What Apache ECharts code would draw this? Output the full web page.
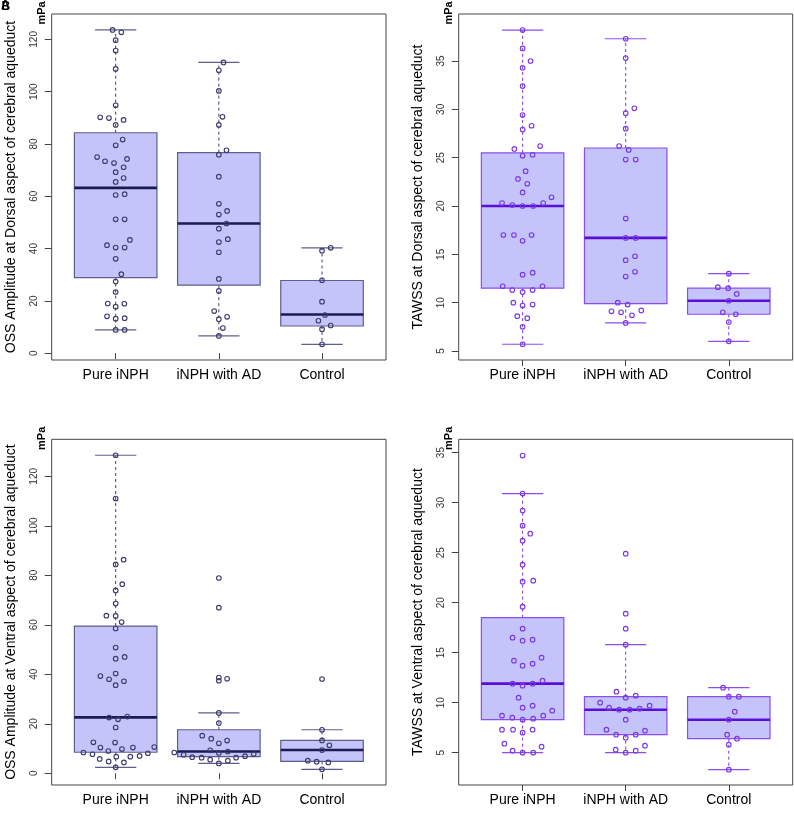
<!DOCTYPE html>
<html><head><meta charset="utf-8">
<script src="https://cdn.jsdelivr.net/npm/echarts@6/dist/echarts.min.js"></script>
<style>html,body{margin:0;padding:0;background:#fff}#c{width:794px;height:813px}</style>
</head><body><div id="c"></div>
<script>
// ---------- data ----------
const categories = ['Pure iNPH', 'iNPH with AD', 'Control'];
const yTicksOSS = [0, 20, 40, 60, 80, 100, 120];
const yTicksTAWSS = [5, 10, 15, 20, 25, 30, 35];
const axisTitles = [
  'OSS Amplitude at Dorsal aspect of cerebral aqueduct',
  'TAWSS at Dorsal aspect of cerebral aqueduct',
  'OSS Amplitude at Ventral aspect of cerebral aqueduct',
  'TAWSS at Ventral aspect of cerebral aqueduct'
];
const unitLabel = 'mPa';

// box stats: [lower whisker, Q1, median, Q3, upper whisker]
const boxA = [[8.9, 28.9, 63.2, 84.3, 123.6], [6.6, 26.0, 49.6, 76.7, 111.2], [3.4, 10.4, 14.8, 27.8, 40.3]];
const boxB = [[5.7, 11.5, 20.0, 25.5, 38.2], [7.9, 9.9, 16.7, 26.0, 37.3], [6.0, 8.8, 10.2, 11.5, 13.0]];
const boxC = [[2.4, 8.5, 22.6, 59.5, 128.5], [4.0, 6.7, 8.8, 17.6, 24.4], [1.6, 4.8, 9.4, 13.3, 17.6]];
const boxD = [[5.0, 8.3, 11.9, 18.5, 30.9], [5.0, 6.8, 9.3, 10.6, 15.8], [3.3, 6.4, 8.3, 10.6, 11.5]];

// individual points (values) and their horizontal jitter (category units)
const A_pure_v = [123.6,122.7,119.7,115.7,108.7,94.8,90.2,89.9,89.2,87.3,81.7,79.5,75.0,73.4,72.7,74.3,71.1,69.2,67.0,65.5,60.5,60.8,51.2,51.2,41.3,40.4,40.4,43.3,36.1,30.2,27.4,23.4,19.0,18.9,17.8,14.1,13.2,13.4,8.9,8.9];
const A_pure_j = [-0.03,0.055,0,0,0,0,-0.15,-0.065,0.077,0,0.068,0,-0.18,-0.103,-0.016,0.11,0.077,0,0.077,0,0,0.087,0,0.087,-0.084,0,0.087,0.138,0,0.055,0,0,-0.077,0.084,0,-0.084,0,0.087,0,0.087];
const A_ad_v = [111.2,108.2,100.3,90.4,87.3,77.6,75.9,67.5,57.1,54.4,53.0,49.6,47.6,43.6,42.5,38.6,28.4,23.8,16.1,13.0,13.9,9.6,6.6];
const A_ad_j = [0.045,0,0,0.035,0,0.074,0,0,0,0.08,0,0.074,0,0.087,0,0,0,0,-0.045,0,0.08,0.039,0];
const A_ctl_v = [39.2,40.3,27.9,19.7,14.6,12.4,10.6,9.2,3.4];
const A_ctl_j = [0,0.084,0,0,0.029,-0.035,0.084,0,0];

const B_pure_v = [38.2,36.3,35.0,34.3,32.4,29.4,28.3,27.9,25.9,26.2,25.2,25.3,23.6,22.8,22.3,21.4,20.9,20.3,20.1,20.0,20.0,20.3,17.0,17.0,17.0,16.4,12.9,13.1,11.7,11.3,11.1,11.3,11.7,10.0,9.7,9.8,8.6,8.4,7.5,5.7];
const B_pure_j = [0,0,0.077,0,0,0,0.087,0,-0.08,0.17,0,0.097,0.029,-0.045,0.045,0,0.28,-0.2,-0.1,0,0.103,0.2,-0.187,-0.084,0.087,0,0,0.097,-0.193,-0.1,0,0.097,0.193,-0.09,0,0.097,-0.052,0.045,0,0];
const B_ad_v = [37.3,35.3,30.1,29.6,28.0,26.2,25.8,24.8,24.8,18.7,16.7,16.7,14.4,14.8,12.7,13.2,10.0,9.8,9.1,9.0,8.7,9.2,7.9];
const B_ad_j = [0,0,0.084,0,0,-0.064,0.029,0,0.097,0,0,0.097,0,0.09,0,0.09,-0.077,0.019,-0.138,-0.045,0.061,0.151,0];
const B_ctl_v = [13.0,11.6,11.5,10.9,10.2,9.0,8.8,8.0,6.0];
const B_ctl_j = [0,-0.106,-0.006,0.077,0,-0.058,0.068,0,0];

const C_pure_v = [128.5,111.0,86.3,84.4,76.4,73.9,68.6,63.7,63.6,61.1,58.5,50.8,46.3,47.0,39.3,40.3,38.0,37.2,35.6,22.9,22.5,21.8,18.5,12.5,12.4,10.4,9.8,10.4,10.6,9.0,8.4,7.7,8.1,6.7,6.7,7.0,5.8,4.8,4.4,2.4];
const C_pure_j = [0,0,0.077,0,0.064,0,0,-0.09,0,0.058,0,0,0,0.087,-0.148,0,-0.064,0.08,0,0.113,-0.064,0.023,0,-0.216,-0.006,-0.148,0.061,0.167,0.374,-0.071,-0.312,-0.225,0.312,0.006,0.142,0.232,-0.155,-0.068,0.08,0];
const C_ad_v = [78.9,66.9,38.7,37.4,38.2,24.4,20.3,15.2,14.0,12.1,13.2,9.3,8.2,8.8,8.4,7.5,7.8,6.5,6.3,6.3,6.9,5.5,5.1,4.0];
const C_ad_j = [0,0,0,0,0.08,0,0,-0.161,-0.074,0,0.08,-0.084,0,0.087,-0.432,-0.341,0.338,-0.258,-0.167,0.167,0.254,-0.084,0.087,0];
const C_ctl_v = [38.1,17.6,13.3,11.3,9.4,5.1,4.7,4.4,1.6];
const C_ctl_j = [0,0,0,0.071,0,-0.138,-0.052,0.061,0];

const D_pure_v = [34.7,30.9,29.2,27.7,26.9,26.2,23.8,22.2,22.1,19.6,17.4,16.5,16.2,16.3,14.5,14.2,13.7,13.9,12.2,11.9,11.7,11.9,10.5,9.5,9.7,9.2,8.7,8.5,8.3,8.4,8.7,7.3,7.3,7.0,7.3,5.9,5.6,5.2,5.0,5.0];
const D_pure_j = [0,0,0,0,0.074,0,0,0.103,0,0,0,-0.097,0,0.097,0.184,-0.084,0,0.097,0.193,-0.097,0,0.097,-0.039,0,0.097,0.287,-0.2,-0.1,0,0.103,0.2,-0.2,-0.093,0,0.097,-0.177,0.184,-0.097,0,0.103];
const D_ad_v = [24.9,18.9,17.4,15.8,11.1,10.5,10.7,10.0,9.5,9.3,9.3,9.4,9.7,8.3,7.3,7.2,6.8,6.8,6.5,5.7,5.3,5.2,5.0];
const D_ad_j = [0,0,0,0,-0.09,0,0.097,-0.248,-0.161,-0.064,0.039,0.135,0.232,0,-0.187,0.187,-0.093,0.097,0,0.187,-0.097,0.097,0];
const D_ctl_v = [11.5,10.6,10.6,9.1,8.3,6.8,6.4,5.8,3.3];
const D_ctl_j = [-0.055,0,0.097,0.058,0,-0.016,0.08,0,0];

// ---------- styling / layout ----------
const FONT = '"Liberation Sans", Arial, sans-serif';
const navy = {border: '#5e5e8c', whisker: '#3e3e6e', median: '#1a1a55', point: '#3a3a6c', fill: '#c4c4fa'};
const purple = {border: '#8c4cee', whisker: '#7a36e6', median: '#5a0ed8', point: '#7a36e6', fill: '#c4c4fa'};

const panels = [
  {grid: {left: 51.7, top: 14, width: 334.3, height: 346}, y: [-2.6, 129.7], ticks: yTicksOSS, box: boxA,
   pts: [[A_pure_v, A_pure_j], [A_ad_v, A_ad_j], [A_ctl_v, A_ctl_j]], col: navy},
  {grid: {left: 458.7, top: 14, width: 334, height: 346}, y: [4.07, 39.86], ticks: yTicksTAWSS, box: boxB,
   pts: [[B_pure_v, B_pure_j], [B_ad_v, B_ad_j], [B_ctl_v, B_ctl_j]], col: purple},
  {grid: {left: 51.7, top: 439.3, width: 334.3, height: 345.7}, y: [-4.73, 134.95], ticks: yTicksOSS, box: boxC,
   pts: [[C_pure_v, C_pure_j], [C_ad_v, C_ad_j], [C_ctl_v, C_ctl_j]], col: navy},
  {grid: {left: 458.7, top: 439.3, width: 334, height: 345.7}, y: [1.77, 36.33], ticks: yTicksTAWSS, box: boxD,
   pts: [[D_pure_v, D_pure_j], [D_ad_v, D_ad_j], [D_ctl_v, D_ctl_j]], col: purple}
];

function boxRenderer(col) {
  return function (params, api) {
    const x = api.value(0);
    const lo = api.value(1), q1 = api.value(2), md = api.value(3), q3 = api.value(4), hi = api.value(5);
    const tl = api.coord([x - 0.4, q3]);
    const br = api.coord([x + 0.4, q1]);
    const pHi = api.coord([x, hi]), pLo = api.coord([x, lo]);
    const capL = api.coord([x - 0.2, hi])[0], capR = api.coord([x + 0.2, hi])[0];
    const mL = api.coord([x - 0.4, md]);
    const mR = api.coord([x + 0.4, md]);
    const dash = {stroke: col.whisker, lineWidth: 1, lineDash: [3, 3], fill: null};
    const solid = {stroke: col.border, lineWidth: 1.2, fill: null};
    return {
      type: 'group',
      children: [
        {type: 'line', shape: {x1: pHi[0], y1: tl[1], x2: pHi[0], y2: pHi[1]}, style: dash},
        {type: 'line', shape: {x1: pLo[0], y1: br[1], x2: pLo[0], y2: pLo[1]}, style: dash},
        {type: 'line', shape: {x1: capL, y1: pHi[1], x2: capR, y2: pHi[1]}, style: solid},
        {type: 'line', shape: {x1: capL, y1: pLo[1], x2: capR, y2: pLo[1]}, style: solid},
        {type: 'rect', shape: {x: tl[0], y: tl[1], width: br[0] - tl[0], height: br[1] - tl[1]},
         style: {fill: col.fill, stroke: col.border, lineWidth: 1.2}},
        {type: 'line', shape: {x1: mL[0], y1: mL[1], x2: mR[0], y2: mR[1]},
         style: {stroke: col.median, lineWidth: 2.6}}
      ]
    };
  };
}

const grid = [], xAxis = [], yAxis = [], series = [], graphic = [];
panels.forEach((p, i) => {
  grid.push(Object.assign({show: true, borderColor: '#444', borderWidth: 1, backgroundColor: 'transparent'}, p.grid));
  xAxis.push({
    type: 'value', gridIndex: i, min: 0.38, max: 3.62,
    axisLine: {show: false}, splitLine: {show: false},
    axisTick: {show: true, customValues: [1, 2, 3], length: 6, lineStyle: {color: '#444'}},
    axisLabel: {show: true, customValues: [1, 2, 3], margin: 8, fontSize: 14, color: '#000', fontFamily: FONT,
      formatter: v => categories[Math.round(v) - 1] || ''}
  });
  yAxis.push({
    type: 'value', gridIndex: i, min: p.y[0], max: p.y[1],
    name: axisTitles[i], nameLocation: 'middle', nameGap: 34, nameRotate: 90,
    nameTextStyle: {fontSize: 14, color: '#000', fontFamily: FONT},
    axisLine: {show: false}, splitLine: {show: false},
    axisTick: {show: true, customValues: p.ticks, length: 7, lineStyle: {color: '#444'}},
    axisLabel: {show: true, customValues: p.ticks, rotate: 90, margin: 12, fontSize: 10, color: '#333', fontFamily: FONT}
  });
  series.push({
    type: 'custom', xAxisIndex: i, yAxisIndex: i, z: 2, silent: true,
    renderItem: boxRenderer(p.col),
    encode: {x: 0, y: [1, 2, 3, 4, 5]},
    data: p.box.map((s, k) => [k + 1].concat(s))
  });
  const pts = [];
  p.pts.forEach(([vals, jit], k) => vals.forEach((v, n) => pts.push([k + 1 + jit[n], v])));
  series.push({
    type: 'scatter', xAxisIndex: i, yAxisIndex: i, z: 3, silent: true,
    symbol: 'circle', symbolSize: 4.6,
    itemStyle: {color: 'rgba(0,0,0,0)', borderColor: p.col.point, borderWidth: 1.1, opacity: 1},
    data: pts
  });
  const g = p.grid;
  graphic.push({
    type: 'text', x: g.left - 9.5, y: g.top - 1, rotation: Math.PI / 2, silent: true,
    style: {text: unitLabel, fontSize: 11, fontWeight: 'bold', fill: '#000', fontFamily: FONT,
      align: 'center', verticalAlign: 'middle'}
  });
});
graphic.push({type: 'text', x: 1, y: 0, silent: true,
  style: {text: 'A', fontSize: 12, fontWeight: 'bold', fill: '#000', fontFamily: FONT}});
graphic.push({type: 'text', x: 1.5, y: 0.5, silent: true,
  style: {text: 'B', fontSize: 12, fontWeight: 'bold', fill: '#000', fontFamily: FONT}});

const chart = echarts.init(document.getElementById('c'), null, {renderer: 'canvas'});
chart.setOption({animation: false, backgroundColor: '#fff', grid, xAxis, yAxis, series, graphic});
</script>
</body></html>
